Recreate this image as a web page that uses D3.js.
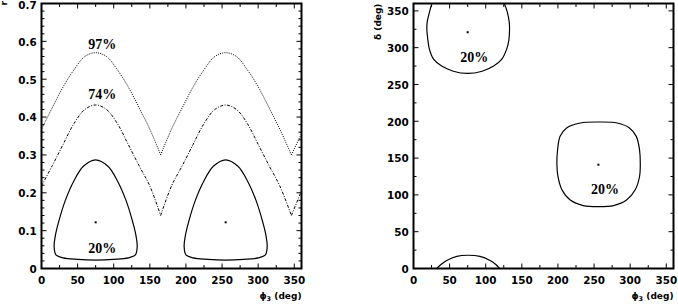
<!DOCTYPE html>
<html><head><meta charset="utf-8">
<script src="https://cdn.jsdelivr.net/npm/d3@7"></script>
<style>body{margin:0;background:#fff}svg{display:block}</style>
</head><body>
<svg id="c" width="678" height="304"></svg>
<script>
// ---------- data ----------
const phiTicks = [0,50,100,150,200,250,300,350];
const rTicks = [0,0.1,0.2,0.3,0.4,0.5,0.6,0.7];
const deltaTicks = [0,50,100,150,200,250,300,350];

// left panel: r vs phi3 (segments split at the cusps)
const contour97 = [
  [[0,0.368],[15,0.425],[30,0.480],[45,0.525],[60,0.560],[75,0.570],[90,0.560],[105,0.525],[120,0.480],[135,0.425],[150,0.368],[165,0.300]],
  [[165,0.300],[180,0.368],[195,0.425],[210,0.480],[225,0.525],[240,0.560],[255,0.570],[270,0.560],[285,0.525],[300,0.480],[315,0.425],[330,0.368],[346,0.300]],
  [[346,0.300],[360,0.356]]
];
const contour74 = [
  [[0,0.218],[15,0.272],[30,0.328],[45,0.383],[60,0.420],[75,0.432],[90,0.420],[105,0.383],[120,0.328],[135,0.272],[150,0.218],[165,0.140]],
  [[165,0.140],[180,0.218],[195,0.272],[210,0.328],[225,0.383],[240,0.420],[255,0.432],[270,0.420],[285,0.383],[300,0.328],[315,0.272],[330,0.218],[346,0.140]],
  [[346,0.140],[360,0.205]]
];
const contour20a = [[75,0.287],[92,0.270],[105,0.232],[117,0.180],[126,0.125],[131,0.085],[132.5,0.058],[130,0.036],[120,0.028],[100,0.024],[75,0.022],[50,0.024],[30,0.028],[20,0.036],[17.5,0.058],[19,0.085],[24,0.125],[33,0.180],[45,0.232],[58,0.270]];
const contour20b = [[255,0.287],[272,0.270],[285,0.232],[297,0.180],[306,0.125],[311,0.085],[312.5,0.058],[310,0.036],[300,0.028],[280,0.024],[255,0.022],[230,0.024],[210,0.028],[200,0.036],[197.5,0.058],[199,0.085],[204,0.125],[213,0.180],[225,0.232],[238,0.270]];
const bestR = [[75,0.122],[255,0.122]];
const labelsR = [["97%",84,0.581],["74%",84,0.449],["20%",84,0.042]];

// right panel: delta vs phi3
const contourDTop = [[26,362],[22,348],[19,335],[18.5,325],[20,310],[22,298],[28,284],[39,275],[55,268],[75,265],[95,268],[111,275],[122,284],[129,298],[132,310],[133,325],[132.5,335],[130,348],[125,362]];
const contourDBottom = [[30,-2],[38,5.5],[46,11],[60,16.5],[75,18],[92,16.5],[106,11],[114,5.5],[121,-2]];
const contourDMid = [[256,199],[231,197.7],[212,191],[203,179.5],[199.5,161],[198.5,143],[200,125],[205.5,107],[217,93],[235,85.5],[256,84],[277,85.5],[295,93],[307,107],[313,125],[314,143],[313,161],[308.5,179.5],[299,191],[282,197.7]];
const bestD = [[75,321],[256,141]];
const labelsD = [["20%",84,280],["20%",265,101]];

// ---------- drawing ----------
const svg = d3.select("#c");
const tickFont = "DejaVu Sans, sans-serif";
const pctFont = "Liberation Serif, 'Times New Roman', serif";

function panel(o){
  const x = d3.scaleLinear().domain([0,360]).range(o.xr);
  const y = d3.scaleLinear().domain(o.yd).range([268.5,3.5]);
  const g = svg.append("g");
  const id = "clip"+o.name;
  svg.append("clipPath").attr("id",id).append("rect")
    .attr("x",o.xr[0]).attr("y",3.5).attr("width",o.xr[1]-o.xr[0]).attr("height",265);
  const pg = g.append("g").attr("clip-path",`url(#${id})`);

  // ticks (all four sides, inward)
  d3.range(0,361,25).forEach(v=>{
    const len = (v%50===0)?5:3.5;
    g.append("line").attr("x1",x(v)).attr("x2",x(v)).attr("y1",268.5).attr("y2",268.5-len).attr("stroke","#000");
    g.append("line").attr("x1",x(v)).attr("x2",x(v)).attr("y1",3.5).attr("y2",3.5+len).attr("stroke","#000");
  });
  o.yMinor.forEach((v,i)=>{
    const len = (i%o.yMajEvery===0)?5:3;
    g.append("line").attr("x1",o.xr[0]).attr("x2",o.xr[0]+len).attr("y1",y(v)).attr("y2",y(v)).attr("stroke","#000");
    g.append("line").attr("x1",o.xr[1]).attr("x2",o.xr[1]-len).attr("y1",y(v)).attr("y2",y(v)).attr("stroke","#000");
  });

  // tick labels
  phiTicks.forEach(v=>{
    g.append("text").attr("x",x(v)).attr("y",284).attr("text-anchor","middle")
      .attr("font-family",tickFont).attr("font-weight","bold").attr("font-size",10.4).text(v);
  });
  o.yTicks.forEach(v=>{
    g.append("text").attr("x",o.xr[0]-4.8).attr("y",Math.max(y(v)+4.3,9)).attr("text-anchor","end")
      .attr("font-family",tickFont).attr("font-weight","bold").attr("font-size",10.4).text(o.fmt(v));
  });

  // x title
  const t = g.append("text").attr("x",o.xr[1]).attr("y",299).attr("text-anchor","end")
    .attr("font-family",tickFont).attr("font-weight","bold").attr("font-size",9);
  t.append("tspan").text("\u03D5");
  t.append("tspan").attr("font-size",6.5).attr("dy",2).text("3");
  t.append("tspan").attr("dy",-2).text(" (deg)");

  // frame
  g.append("rect").attr("x",o.xr[0]).attr("y",3.5).attr("width",o.xr[1]-o.xr[0]).attr("height",265)
    .attr("fill","none").attr("stroke","#000").attr("stroke-width",2);

  return {x,y,g,pg};
}

// left panel
const L = panel({name:"L", xr:[41.5,301.5], yd:[0,0.7], yTicks:rTicks,
  yMinor:d3.range(0,36).map(i=>i*0.02), yMajEvery:5,
  fmt:v=>v===0?"0":d3.format(".1f")(v)});
const lineL = d3.line().x(d=>L.x(d[0])).y(d=>L.y(d[1])).curve(d3.curveCatmullRom.alpha(0.5));
contour97.forEach(s=>L.pg.append("path").attr("d",lineL(s)).attr("fill","none").attr("stroke","#000").attr("stroke-width",1).attr("stroke-dasharray","1,1.2"));
contour74.forEach(s=>L.pg.append("path").attr("d",lineL(s)).attr("fill","none").attr("stroke","#000").attr("stroke-width",1).attr("stroke-dasharray","3,1.5,1,1.5"));
const closedL = d3.line().x(d=>L.x(d[0])).y(d=>L.y(d[1])).curve(d3.curveCatmullRomClosed.alpha(0.5));
[contour20a,contour20b].forEach(s=>L.pg.append("path").attr("d",closedL(s)).attr("fill","none").attr("stroke","#000").attr("stroke-width",1.2));
bestR.forEach(p=>L.pg.append("rect").attr("x",L.x(p[0])-1).attr("y",L.y(p[1])-1).attr("width",2).attr("height",2).attr("fill","#000"));
labelsR.forEach(l=>L.g.append("text").attr("x",L.x(l[1])).attr("y",L.y(l[2])).attr("text-anchor","middle")
  .attr("font-family",pctFont).attr("font-weight","bold").attr("font-size",14).text(l[0]));
// y title "r" at the top-left corner
L.g.append("text").attr("transform","translate(7,1) rotate(-90)").attr("text-anchor","end")
  .attr("font-family",tickFont).attr("font-weight","bold").attr("font-size",9).text("r");

// right panel
const R = panel({name:"R", xr:[413.5,673.5], yd:[0,360], yTicks:deltaTicks,
  yMinor:d3.range(0,361,25), yMajEvery:2, fmt:v=>v});
const lineR = d3.line().x(d=>R.x(d[0])).y(d=>R.y(d[1])).curve(d3.curveCatmullRom.alpha(0.5));
const closedR = d3.line().x(d=>R.x(d[0])).y(d=>R.y(d[1])).curve(d3.curveCatmullRomClosed.alpha(0.5));
[contourDTop,contourDBottom].forEach(s=>R.pg.append("path").attr("d",lineR(s)).attr("fill","none").attr("stroke","#000").attr("stroke-width",1.2));
R.pg.append("path").attr("d",closedR(contourDMid)).attr("fill","none").attr("stroke","#000").attr("stroke-width",1.2);
bestD.forEach(p=>R.pg.append("rect").attr("x",R.x(p[0])-1).attr("y",R.y(p[1])-1).attr("width",2).attr("height",2).attr("fill","#000"));
labelsD.forEach(l=>R.g.append("text").attr("x",R.x(l[1])).attr("y",R.y(l[2])).attr("text-anchor","middle")
  .attr("font-family",pctFont).attr("font-weight","bold").attr("font-size",14).text(l[0]));
R.g.append("text").attr("transform","translate(381,3.5) rotate(-90)").attr("text-anchor","end")
  .attr("font-family",tickFont).attr("font-weight","bold").attr("font-size",9).text("\u03B4 (deg)");
</script>
</body></html>
